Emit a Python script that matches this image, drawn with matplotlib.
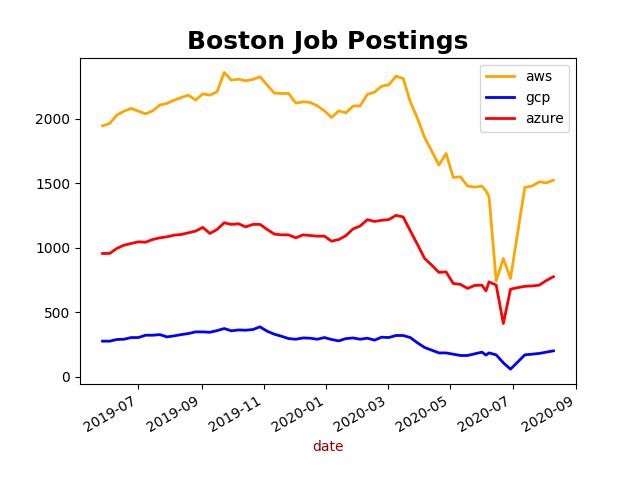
import matplotlib
matplotlib.use("Agg")
import matplotlib.pyplot as plt
import pandas as pd
import numpy as np

# weekly dates plus one extra mid-week record
weekly = list(pd.date_range("2019-05-27", "2020-08-10", freq="7D"))
extra_date = pd.Timestamp("2020-06-05")
dates = sorted(weekly + [extra_date])

aws = [1944, 1963, 2027, 2058, 2079, 2058, 2037, 2060, 2105, 2118,
       2143, 2164, 2182, 2143, 2192, 2182, 2208, 2358, 2298, 2306,
       2293, 2304, 2324, 2260, 2198, 2195, 2195, 2120, 2130, 2126,
       2099, 2060, 2009, 2060, 2045, 2097, 2099, 2188, 2205, 2252,
       2262, 2329, 2312, 2130, 2002, 1854, 1748, 1640, 1730, 1544,
       1549, 1477, 1469, 1477, 1440, 1394, 743, 916, 761, 1115,
       1467, 1477, 1510, 1502, 1523]

gcp = [275, 275, 288, 290, 303, 303, 321, 321, 326, 308,
       316, 326, 334, 347, 347, 344, 357, 373, 355, 362,
       360, 365, 386, 352, 329, 313, 295, 290, 300, 298,
       290, 303, 288, 277, 295, 300, 290, 298, 283, 306,
       303, 319, 319, 303, 262, 226, 205, 184, 184, 174,
       164, 164, 177, 190, 167, 184, 169, 107, 58, 113,
       169, 174, 180, 190, 200]

azure = [955, 955, 994, 1019, 1032, 1045, 1042, 1063, 1076, 1084,
         1097, 1102, 1115, 1128, 1157, 1110, 1141, 1193, 1180, 1185,
         1161, 1180, 1180, 1141, 1105, 1099, 1099, 1076, 1099, 1094,
         1089, 1089, 1050, 1063, 1093, 1145, 1168, 1217, 1203, 1212,
         1218, 1250, 1238, 1130, 1025, 916, 864, 808, 812, 722,
         715, 684, 707, 709, 665, 735, 709, 412, 678, 690,
         700, 703, 709, 745, 775]

fig, ax = plt.subplots(figsize=(6.4, 4.8), dpi=100)
ax.plot(dates, aws, color="orange", linewidth=2, label="aws")
ax.plot(dates, gcp, color="blue", linewidth=2, label="gcp")
ax.plot(dates, azure, color="red", linewidth=2, label="azure")
ax.set_title("Boston Job Postings", fontsize=18, fontweight="bold")
ax.set_xlabel("date", color="darkred")
ax.legend(loc="upper right")
fig.autofmt_xdate()
fig.savefig("out.png", dpi=100)
